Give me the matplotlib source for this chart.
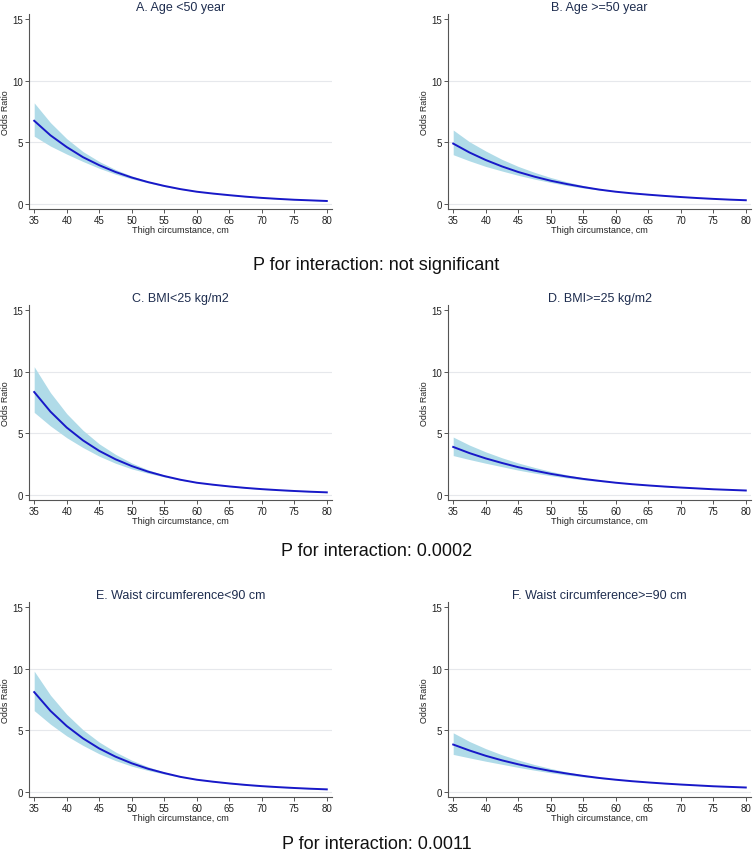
import matplotlib
matplotlib.use("Agg")
import matplotlib.pyplot as plt

plt.rcParams['font.family'] = ['Liberation Sans', 'DejaVu Sans']

x = [35, 37.5, 40, 42.5, 45, 47.5, 50, 52.5, 55, 57.5, 60,
     62.5, 65, 67.5, 70, 72.5, 75, 77.5, 80]

titles = ["A. Age <50 year", "B. Age >=50 year",
          "C. BMI<25 kg/m2", "D. BMI>=25 kg/m2",
          "E. Waist circumference<90 cm", "F. Waist circumference>=90 cm"]

# odds ratio: centre, upper and lower bound per panel
or_a = [6.75, 5.57, 4.62, 3.8, 3.15, 2.6, 2.15, 1.78, 1.47, 1.21, 1.0, 0.85, 0.72, 0.6, 0.5, 0.42, 0.35, 0.3, 0.25]
hi_a = [8.2, 6.6, 5.3, 4.25, 3.45, 2.8, 2.28, 1.85, 1.53, 1.24, 1.0, 0.86, 0.73, 0.61, 0.51, 0.43, 0.36, 0.31, 0.27]
lo_a = [5.5, 4.7, 4.05, 3.45, 2.9, 2.42, 2.04, 1.72, 1.42, 1.18, 1.0, 0.84, 0.71, 0.59, 0.49, 0.41, 0.34, 0.29, 0.23]

or_b = [4.9, 4.18, 3.57, 3.05, 2.6, 2.22, 1.89, 1.62, 1.38, 1.17, 1.0, 0.87, 0.76, 0.66, 0.57, 0.49, 0.42, 0.36, 0.31]
hi_b = [6.0, 5.05, 4.3, 3.62, 3.05, 2.57, 2.15, 1.8, 1.5, 1.23, 1.0, 0.88, 0.77, 0.67, 0.58, 0.5, 0.43, 0.37, 0.32]
lo_b = [4.0, 3.5, 3.05, 2.68, 2.33, 2.02, 1.75, 1.5, 1.3, 1.13, 1.0, 0.86, 0.75, 0.65, 0.56, 0.48, 0.41, 0.35, 0.3]

or_c = [8.35, 6.76, 5.47, 4.43, 3.58, 2.9, 2.35, 1.9, 1.54, 1.24, 1.0, 0.84, 0.7, 0.58, 0.48, 0.4, 0.33, 0.27, 0.22]
hi_c = [10.4, 8.3, 6.6, 5.25, 4.15, 3.3, 2.6, 2.05, 1.62, 1.28, 1.0, 0.85, 0.72, 0.6, 0.5, 0.42, 0.35, 0.29, 0.24]
lo_c = [6.7, 5.6, 4.65, 3.85, 3.15, 2.58, 2.12, 1.77, 1.47, 1.2, 1.0, 0.83, 0.68, 0.56, 0.46, 0.38, 0.31, 0.25, 0.2]

or_d = [3.9, 3.4, 2.97, 2.6, 2.26, 1.98, 1.72, 1.5, 1.31, 1.15, 1.0, 0.88, 0.78, 0.69, 0.61, 0.54, 0.47, 0.42, 0.37]
hi_d = [4.7, 4.05, 3.5, 3.02, 2.6, 2.24, 1.92, 1.64, 1.4, 1.19, 1.0, 0.89, 0.79, 0.7, 0.62, 0.55, 0.48, 0.43, 0.38]
lo_d = [3.2, 2.88, 2.58, 2.3, 2.02, 1.78, 1.57, 1.39, 1.23, 1.1, 1.0, 0.87, 0.77, 0.68, 0.6, 0.53, 0.46, 0.41, 0.36]

or_e = [8.1, 6.58, 5.35, 4.35, 3.53, 2.87, 2.33, 1.89, 1.54, 1.23, 1.0, 0.84, 0.7, 0.58, 0.48, 0.4, 0.33, 0.27, 0.22]
hi_e = [9.8, 7.85, 6.3, 5.05, 4.05, 3.25, 2.58, 2.05, 1.62, 1.27, 1.0, 0.85, 0.72, 0.6, 0.5, 0.42, 0.35, 0.29, 0.24]
lo_e = [6.6, 5.5, 4.55, 3.78, 3.1, 2.55, 2.1, 1.75, 1.46, 1.2, 1.0, 0.83, 0.68, 0.56, 0.46, 0.38, 0.31, 0.25, 0.2]

or_f = [3.85, 3.37, 2.94, 2.57, 2.25, 1.96, 1.71, 1.5, 1.31, 1.14, 1.0, 0.88, 0.78, 0.69, 0.61, 0.54, 0.47, 0.42, 0.37]
hi_f = [4.8, 4.1, 3.52, 3.02, 2.6, 2.23, 1.91, 1.63, 1.39, 1.18, 1.0, 0.89, 0.79, 0.7, 0.62, 0.55, 0.48, 0.43, 0.38]
lo_f = [3.05, 2.77, 2.5, 2.25, 2.0, 1.77, 1.56, 1.38, 1.23, 1.1, 1.0, 0.87, 0.77, 0.68, 0.6, 0.53, 0.46, 0.41, 0.36]

centres = [or_a, or_b, or_c, or_d, or_e, or_f]
uppers = [hi_a, hi_b, hi_c, hi_d, hi_e, hi_f]
lowers = [lo_a, lo_b, lo_c, lo_d, lo_e, lo_f]

p_texts = ["P for interaction: not significant",
           "P for interaction: 0.0002",
           "P for interaction: 0.0011"]

W, H = 753, 862
fig = plt.figure(figsize=(W / 100, H / 100), dpi=100)

lefts = [29, 448]
tops = [15, 306, 603]
aw, ah = 303, 195
p_y = [266, 552, 845]

for i in range(6):
    r, c = divmod(i, 2)
    ax = fig.add_axes([lefts[c] / W, 1 - (tops[r] + ah) / H, aw / W, ah / H])
    ax.fill_between(x, lowers[i], uppers[i], color='#b0dbe8', lw=0)
    ax.plot(x, centres[i], color='#1818c8', lw=1.4)
    ax.set_xlim(34.2, 80.8)
    ax.set_ylim(-0.4, 15.4)
    ax.set_xticks(range(35, 81, 5))
    ax.set_yticks([0, 5, 10, 15])
    for g in [0, 5, 10]:
        ax.axhline(g, color='#e6e8ec', lw=0.8, zorder=0)
    for s in ['top', 'right']:
        ax.spines[s].set_visible(False)
    for s in ['left', 'bottom']:
        ax.spines[s].set_color('#555555')
        ax.spines[s].set_linewidth(0.8)
    ax.tick_params(length=3, width=0.7, color='#555555', labelsize=7,
                   labelcolor='#222222', pad=1.5)
    ax.set_xlabel("Thigh circumstance, cm", fontsize=6.6, color='#222222', labelpad=0)
    ax.set_ylabel("Odds Ratio", fontsize=6.4, color='#222222')
    ax.yaxis.set_label_coords(-0.064, 0.5)
    ax.set_title(titles[i], fontsize=9, color='#1e2d4f', pad=3)

for k in range(3):
    fig.text(0.5, 1 - p_y[k] / H, p_texts[k], ha='center', va='center',
             fontsize=13, color='#111111')

fig.savefig("out.png", dpi=100, facecolor='white')
